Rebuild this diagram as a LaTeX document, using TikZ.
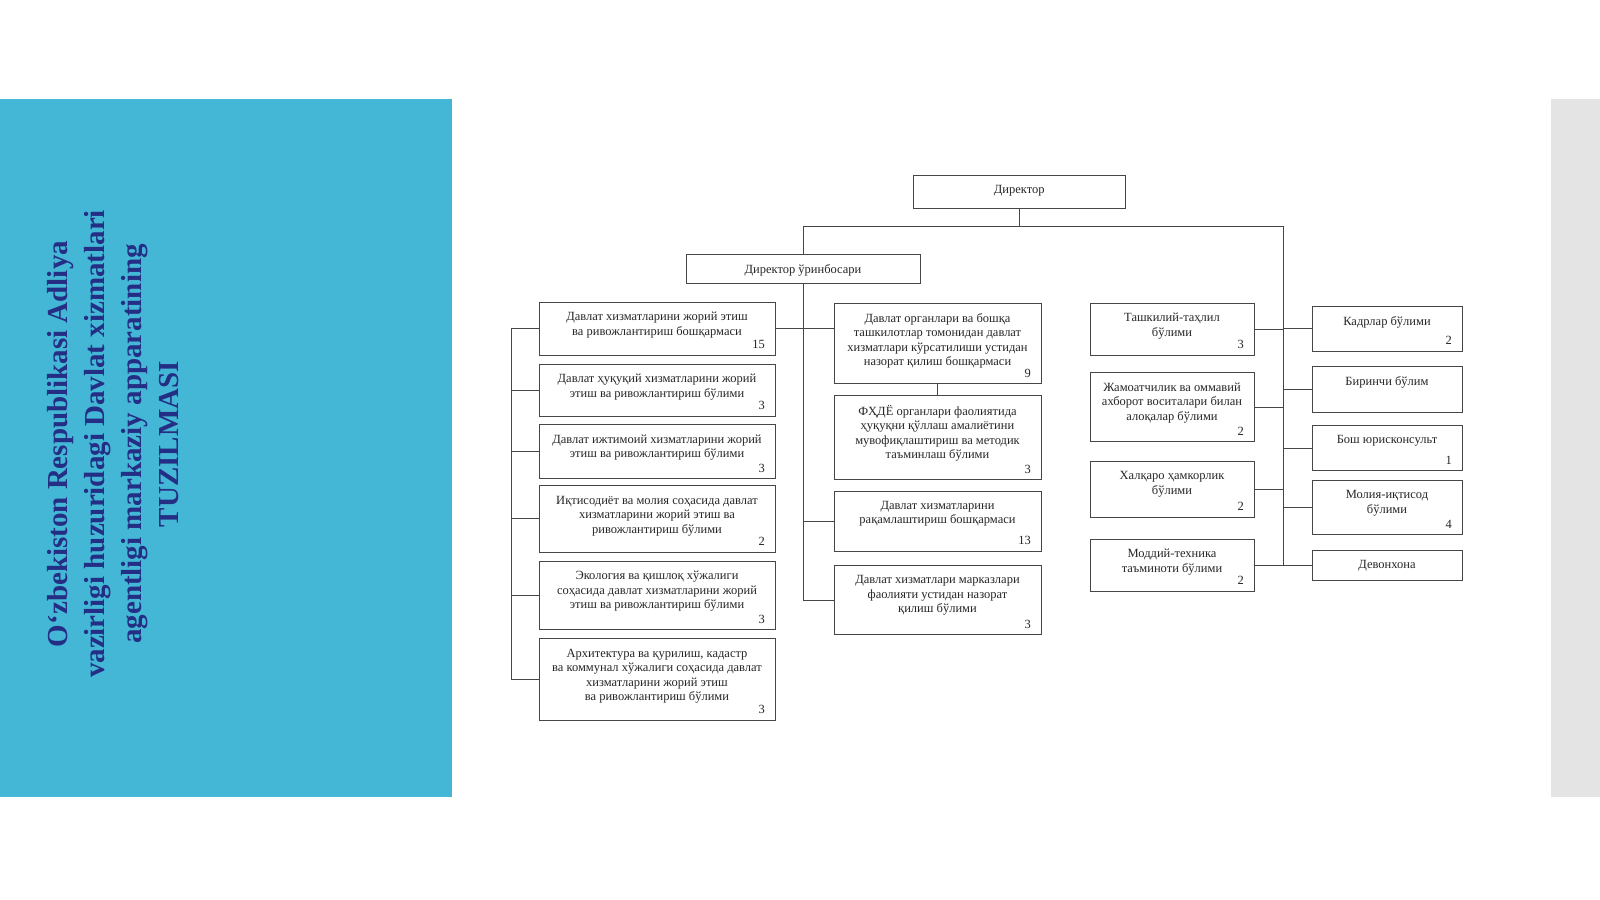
\documentclass[tikz,border=0pt]{standalone}
\usepackage{fontspec}
\setmainfont{Liberation Serif}
\usetikzlibrary{calc}
\definecolor{panelblue}{RGB}{67,183,213}
\definecolor{titleblue}{RGB}{36,46,132}
\definecolor{panelgray}{RGB}{228,228,228}
\definecolor{linegray}{RGB}{70,70,70}
\newcommand\orgbox[7]{%
  \node[unitbox, minimum width=#4pt, minimum height=#5pt] (#1) at (#2,#3) {};
  \node[boxtext] (#1t) at ($(#1.north)+(0,10)$) {#6};
  \node[boxnum] (#1n) at ($(#1.south east)+(-10,-6.5)$) {#7};
}
\newcommand\plainbox[6]{%
  \node[unitbox, minimum width=#4pt, minimum height=#5pt] (#1) at (#2,#3) {};
  \node[boxtext] (#1t) at ($(#1.north)+(0,10)$) {#6};
}
\begin{document}
\begin{tikzpicture}[x=1pt,y=-1pt,
  unitbox/.style={draw=linegray, line width=0.9pt, inner sep=0pt, outer sep=0pt, anchor=north west},
  boxtext/.style={anchor=north, inner sep=0pt, align=center, font=\fontsize{12.5}{14.5}\selectfont, text=black!85},
  boxnum/.style={anchor=base east, inner sep=0pt, font=\fontsize{12.5}{14.5}\selectfont, text=black!85},
  link/.style={draw=linegray, line width=0.9pt}]
\useasboundingbox[fill=white] (0,0) rectangle (1600,899);
% side panels
\fill[panelblue] (0,99) rectangle (452,797);
\fill[panelgray] (1551,99) rectangle (1600,797);
\node[rotate=90, align=center, inner sep=0pt, text=titleblue,
  font=\fontsize{29}{37}\selectfont\bfseries] (title) at (113,444)
  {O‘zbekiston Respublikasi Adliya\\vazirligi huzuridagi Davlat xizmatlari\\agentligi markaziy apparatining\\TUZILMASI};
% top
\plainbox{dir}{913}{175.5}{212.5}{32.7}{Директор}
\plainbox{dep}{686}{254}{234}{29.7}{Директор ўринбосари}
% left column
\orgbox{L1}{539}{302}{236}{53}{Давлат хизматларини жорий этиш\\ва ривожлантириш бошқармаси}{15}
\orgbox{L2}{539}{364}{236}{52}{Давлат ҳуқуқий хизматларини жорий\\этиш ва ривожлантириш бўлими}{3}
\orgbox{L3}{539}{424.5}{236}{54}{Давлат ижтимоий хизматларини жорий\\этиш ва ривожлантириш бўлими}{3}
\orgbox{L4}{539}{485.7}{236}{66.3}{Иқтисодиёт ва молия соҳасида давлат\\хизматларини жорий этиш ва\\ривожлантириш бўлими}{2}
\orgbox{L5}{539}{561.2}{236}{68.4}{Экология ва қишлоқ хўжалиги\\соҳасида давлат хизматларини жорий\\этиш ва ривожлантириш бўлими}{3}
\orgbox{L6}{539}{638.8}{236}{81.6}{Архитектура ва қурилиш, кадастр\\ва коммунал хўжалиги соҳасида давлат\\хизматларини жорий этиш\\ва ривожлантириш бўлими}{3}
% middle column
\orgbox{M1}{834}{303}{207}{80.6}{Давлат органлари ва бошқа\\ташкилотлар томонидан давлат\\хизматлари кўрсатилиши устидан\\назорат қилиш бошқармаси}{9}
\orgbox{M2}{834}{395}{207}{84.7}{ФҲДЁ органлари фаолиятида\\ҳуқуқни қўллаш амалиётини\\мувофиқлаштириш ва методик\\таъминлаш бўлими}{3}
\orgbox{M3}{834}{491}{207}{60}{Давлат хизматларини\\рақамлаштириш бошқармаси}{13}
\orgbox{M4}{834}{565.3}{207}{69.4}{Давлат хизматлари марказлари\\фаолияти устидан назорат\\қилиш бўлими}{3}
% right-middle column
\orgbox{R1}{1090}{303}{164}{52}{Ташкилий-таҳлил\\бўлими}{3}
\orgbox{R2}{1090}{372.4}{164}{69.4}{Жамоатчилик ва оммавий\\ахборот воситалари билан\\алоқалар бўлими}{2}
\orgbox{R3}{1090}{461.2}{164}{56.1}{Халқаро ҳамкорлик\\бўлими}{2}
\orgbox{R4}{1090}{539}{164}{52}{Моддий-техника\\таъминоти бўлими}{2}
% right column
\orgbox{C1}{1312}{306}{150}{45}{Кадрлар бўлими}{2}
\plainbox{C2}{1312}{366.3}{150}{46}{Биринчи бўлим}
\orgbox{C3}{1312}{425.5}{150}{45}{Бош юрисконсульт}{1}
\orgbox{C4}{1312}{480.6}{150}{54}{Молия-иқтисод\\бўлими}{4}
\plainbox{C5}{1312}{550}{150}{30.6}{Девонхона}
% connectors
\coordinate (bus) at (1019,226.5);
\coordinate (rs) at (1283,226.5);
\coordinate (lsp) at (511.2,328.5);
\draw[link] (dir.south) -- (dir.south |- bus);
\draw[link] (dep.north) -- (dep.north |- bus) -- (rs) -- (rs |- C5.west);
\draw[link] (dep.south) -- (dep.south |- M4.west) -- (M4.west);
\draw[link] (dep.south |- M3.west) -- (M3.west);
\draw[link] (L1.east) -- (M1.west |- L1.east);
\draw[link] (M1.south) -- (M2.north);
\draw[link] (L1.west) -- (lsp) -- (lsp |- L6.west) -- (L6.west);
\foreach \b in {L2,L3,L4,L5} \draw[link] (lsp |- \b.west) -- (\b.west);
\foreach \b in {R1,R2,R3,R4} \draw[link] (\b.east) -- (rs |- \b.east);
\foreach \b in {C1,C2,C3,C4,C5} \draw[link] (rs |- \b.west) -- (\b.west);
\end{tikzpicture}
\end{document}
